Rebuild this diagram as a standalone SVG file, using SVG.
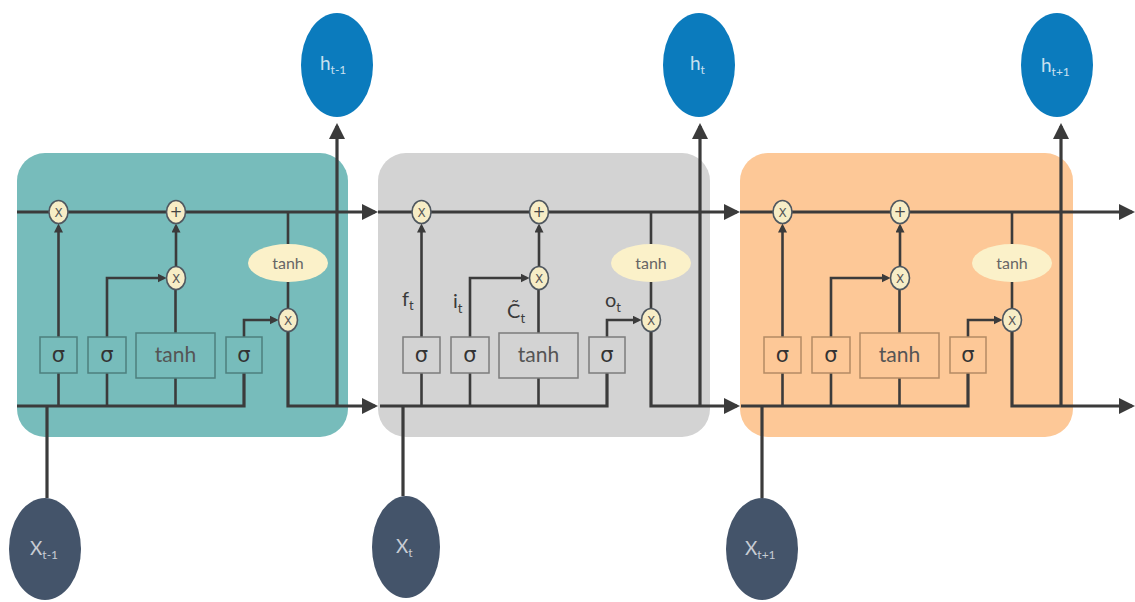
<svg xmlns="http://www.w3.org/2000/svg" width="1135" height="602" viewBox="0 0 1135 602">
<defs>
<marker id="big" markerUnits="userSpaceOnUse" markerWidth="16" markerHeight="16" refX="13" refY="8" orient="auto"><path d="M0,0 L16,8 L0,16 z" fill="#3b3b3b"/></marker>
<marker id="sm" markerUnits="userSpaceOnUse" markerWidth="10" markerHeight="10" refX="6" refY="4.5" orient="auto"><path d="M0,0 L9,4.5 L0,9 z" fill="#3b3b3b"/></marker>
</defs>
<style>
.line{fill:none;stroke:#3b3b3b;stroke-width:3.2}
.thin{fill:none;stroke:#3b3b3b;stroke-width:2.6}
.op{fill:#f7edc6;stroke:#505860;stroke-width:1.6}
.opt{font-family:"DejaVu Sans",sans-serif;font-size:12px;fill:#555;text-anchor:middle}
.opp{font-family:"DejaVu Sans",sans-serif;font-size:15px;fill:#444;text-anchor:middle}
.th{fill:#fbf1c9}
.tht{font-family:"Lato","Open Sans",sans-serif;font-size:16px;fill:#666;text-anchor:middle}
.sig{font-family:"DejaVu Sans",sans-serif;font-size:21px;fill:#333;text-anchor:middle}
.tb{font-family:"Lato","Open Sans",sans-serif;font-size:21px;fill:#555;text-anchor:middle}
.lbl{font-family:"Lato","Open Sans",sans-serif;font-size:20px;fill:#3a3a3a}
.hn{fill:#0b7bbd}
.xn{fill:#44546a}
.ht{font-family:"Lato","Open Sans",sans-serif;font-size:19px;fill:#c9e0ef}
.xt{font-family:"Lato","Open Sans",sans-serif;font-size:19px;fill:#c7ccd4}
.b1{fill:none;stroke:#4d7f7e;stroke-width:1.5}
.b2{fill:none;stroke:#7c7c7c;stroke-width:1.5}
.b3{fill:none;stroke:#b48a64;stroke-width:1.5}
</style>
<rect width="1135" height="602" fill="#ffffff"/>
<g id="cell1-bg"><rect x="17" y="153" width="331" height="284" rx="28" fill="#77bcbb"/></g>
<g id="cell2-bg"><rect x="378" y="153" width="332" height="284" rx="28" fill="#d3d3d3"/></g>
<g id="cell3-bg"><rect x="740" y="153" width="333" height="284" rx="28" fill="#fdc897"/></g>

<g id="connectors">
<path class="line" d="M17,212 H375" marker-end="url(#big)"/>
<path class="line" d="M378,212 H737" marker-end="url(#big)"/>
<path class="line" d="M740,212 H1132" marker-end="url(#big)"/>
<path class="line" d="M47,406 V498"/>
<path class="line" d="M403,406 V496"/>
<path class="line" d="M762,406 V498"/>
<path class="line" d="M337,406 V126" marker-end="url(#big)"/>
<path class="line" d="M700,406 V126" marker-end="url(#big)"/>
<path class="line" d="M1061,406 V126" marker-end="url(#big)"/>
<path class="line" d="M288,331.5 V406 H375" marker-end="url(#big)"/>
<path class="line" d="M651,331.5 V406 H737" marker-end="url(#big)"/>
<path class="line" d="M1012,331.5 V406 H1132" marker-end="url(#big)"/>
<g id="c1-wires">
<path class="line" d="M17,406 H244 V373"/>
<path class="thin" d="M58.5,406 V373 M107,406 V373 M175.5,406 V378"/>
<path class="thin" d="M58.5,337 V226.5" marker-end="url(#sm)"/>
<path class="thin" d="M107,337 V278 H163.5" marker-end="url(#sm)"/>
<path class="thin" d="M175.5,333 V289.5"/>
<path class="thin" d="M176,266.5 V226.5" marker-end="url(#sm)"/>
<path class="thin" d="M244,337 V320 H275.5" marker-end="url(#sm)"/>
<path class="thin" d="M288,212 V244 M288,282 V308.5"/>
</g>
<g id="c2-wires" transform="translate(363,0)">
<path class="line" d="M17,406 H244 V373"/>
<path class="thin" d="M58.5,406 V373 M107,406 V373 M175.5,406 V378"/>
<path class="thin" d="M58.5,337 V226.5" marker-end="url(#sm)"/>
<path class="thin" d="M107,337 V278 H163.5" marker-end="url(#sm)"/>
<path class="thin" d="M175.5,333 V289.5"/>
<path class="thin" d="M176,266.5 V226.5" marker-end="url(#sm)"/>
<path class="thin" d="M244,337 V320 H275.5" marker-end="url(#sm)"/>
<path class="thin" d="M288,212 V244 M288,282 V308.5"/>
</g>
<g id="c3-wires" transform="translate(724,0)">
<path class="line" d="M17,406 H244 V373"/>
<path class="thin" d="M58.5,406 V373 M107,406 V373 M175.5,406 V378"/>
<path class="thin" d="M58.5,337 V226.5" marker-end="url(#sm)"/>
<path class="thin" d="M107,337 V278 H163.5" marker-end="url(#sm)"/>
<path class="thin" d="M175.5,333 V289.5"/>
<path class="thin" d="M176,266.5 V226.5" marker-end="url(#sm)"/>
<path class="thin" d="M244,337 V320 H275.5" marker-end="url(#sm)"/>
<path class="thin" d="M288,212 V244 M288,282 V308.5"/>
</g>
</g>

<g id="cell1">
<g id="c1-forget"><ellipse class="op" cx="58.5" cy="212" rx="9.5" ry="11.5"/><text class="opt" x="58.5" y="216.5">X</text></g>
<g id="c1-plus"><ellipse class="op" cx="176" cy="212" rx="9.5" ry="11.5"/><text class="opp" x="176" y="217">+</text></g>
<g id="c1-mul-in"><ellipse class="op" cx="176" cy="278" rx="9.5" ry="11.5"/><text class="opt" x="176" y="282.5">X</text></g>
<g id="c1-mul-out"><ellipse class="op" cx="288" cy="320" rx="9.5" ry="11.5"/><text class="opt" x="288" y="324.5">X</text></g>
<g id="c1-tanh-out"><ellipse class="th" cx="288" cy="263" rx="40" ry="19"/><text class="tht" x="288" y="269">tanh</text></g>
<g id="c1-sig-f"><rect class="b1" x="40" y="337" width="37" height="36"/><text class="sig" x="58.5" y="362">σ</text></g>
<g id="c1-sig-i"><rect class="b1" x="88" y="337" width="38" height="36"/><text class="sig" x="107" y="362">σ</text></g>
<g id="c1-tanh"><rect class="b1" x="136" y="333" width="79" height="45"/><text class="tb" x="175.5" y="362">tanh</text></g>
<g id="c1-sig-o"><rect class="b1" x="226" y="337" width="36" height="36"/><text class="sig" x="244" y="362">σ</text></g>
</g>

<g id="cell2" transform="translate(363,0)">
<g id="c2-forget"><ellipse class="op" cx="58.5" cy="212" rx="9.5" ry="11.5"/><text class="opt" x="58.5" y="216.5">X</text></g>
<g id="c2-plus"><ellipse class="op" cx="176" cy="212" rx="9.5" ry="11.5"/><text class="opp" x="176" y="217">+</text></g>
<g id="c2-mul-in"><ellipse class="op" cx="176" cy="278" rx="9.5" ry="11.5"/><text class="opt" x="176" y="282.5">X</text></g>
<g id="c2-mul-out"><ellipse class="op" cx="288" cy="320" rx="9.5" ry="11.5"/><text class="opt" x="288" y="324.5">X</text></g>
<g id="c2-tanh-out"><ellipse class="th" cx="288" cy="263" rx="40" ry="19"/><text class="tht" x="288" y="269">tanh</text></g>
<g id="c2-sig-f"><rect class="b2" x="40" y="337" width="37" height="36"/><text class="sig" x="58.5" y="362">σ</text></g>
<g id="c2-sig-i"><rect class="b2" x="88" y="337" width="38" height="36"/><text class="sig" x="107" y="362">σ</text></g>
<g id="c2-tanh"><rect class="b2" x="136" y="333" width="79" height="45"/><text class="tb" x="175.5" y="362">tanh</text></g>
<g id="c2-sig-o"><rect class="b2" x="226" y="337" width="36" height="36"/><text class="sig" x="244" y="362">σ</text></g>
</g>
<g id="cell2-labels">
<text class="lbl" x="402" y="306">f<tspan font-size="13" dy="4">t</tspan></text>
<text class="lbl" x="453" y="308">i<tspan font-size="13" dy="5">t</tspan></text>
<text class="lbl" x="507" y="318">C&#x303;<tspan font-size="13" dy="5">t</tspan></text>
<text class="lbl" x="605" y="307">o<tspan font-size="13" dy="5">t</tspan></text>
</g>

<g id="cell3" transform="translate(724,0)">
<g id="c3-forget"><ellipse class="op" cx="58.5" cy="212" rx="9.5" ry="11.5"/><text class="opt" x="58.5" y="216.5">X</text></g>
<g id="c3-plus"><ellipse class="op" cx="176" cy="212" rx="9.5" ry="11.5"/><text class="opp" x="176" y="217">+</text></g>
<g id="c3-mul-in"><ellipse class="op" cx="176" cy="278" rx="9.5" ry="11.5"/><text class="opt" x="176" y="282.5">X</text></g>
<g id="c3-mul-out"><ellipse class="op" cx="288" cy="320" rx="9.5" ry="11.5"/><text class="opt" x="288" y="324.5">X</text></g>
<g id="c3-tanh-out"><ellipse class="th" cx="288" cy="263" rx="40" ry="19"/><text class="tht" x="288" y="269">tanh</text></g>
<g id="c3-sig-f"><rect class="b3" x="40" y="337" width="37" height="36"/><text class="sig" x="58.5" y="362">σ</text></g>
<g id="c3-sig-i"><rect class="b3" x="88" y="337" width="38" height="36"/><text class="sig" x="107" y="362">σ</text></g>
<g id="c3-tanh"><rect class="b3" x="136" y="333" width="79" height="45"/><text class="tb" x="175.5" y="362">tanh</text></g>
<g id="c3-sig-o"><rect class="b3" x="226" y="337" width="36" height="36"/><text class="sig" x="244" y="362">σ</text></g>
</g>

<g id="h-prev"><ellipse class="hn" cx="337" cy="65" rx="36" ry="52"/><text class="ht" x="320" y="70">h<tspan font-size="12" dy="4">t-1</tspan></text></g>
<g id="h-cur"><ellipse class="hn" cx="699" cy="65" rx="36" ry="52"/><text class="ht" x="690" y="70">h<tspan font-size="12" dy="4">t</tspan></text></g>
<g id="h-next"><ellipse class="hn" cx="1057" cy="65" rx="36" ry="52"/><text class="ht" x="1041" y="72">h<tspan font-size="12" dy="4">t+1</tspan></text></g>
<g id="x-prev"><ellipse class="xn" cx="45" cy="549" rx="36" ry="51"/><text class="xt" x="30" y="555">X<tspan font-size="12" dy="4">t-1</tspan></text></g>
<g id="x-cur"><ellipse class="xn" cx="406" cy="547" rx="34" ry="51"/><text class="xt" x="396" y="553">X<tspan font-size="12" dy="4">t</tspan></text></g>
<g id="x-next"><ellipse class="xn" cx="762" cy="549" rx="36" ry="51"/><text class="xt" x="745" y="555">X<tspan font-size="12" dy="4">t+1</tspan></text></g>
</svg>
